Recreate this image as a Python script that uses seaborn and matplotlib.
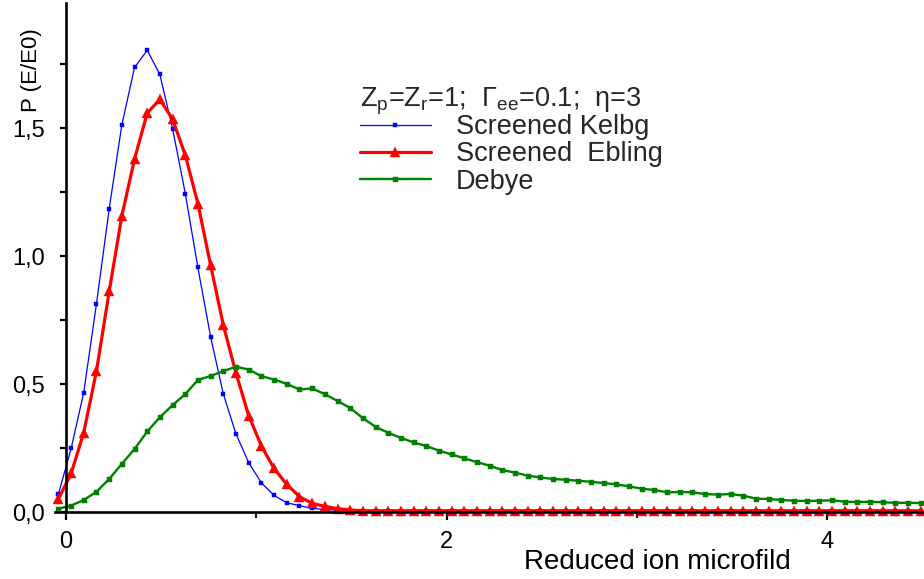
import numpy as np
import pandas as pd
import matplotlib
matplotlib.use("Agg")
import matplotlib.pyplot as plt
import seaborn as sns
from matplotlib.ticker import FixedLocator

# ---------------- data ----------------
x_vals = [-0.040, 0.027, 0.093, 0.160, 0.227, 0.293, 0.360, 0.427, 0.493, 0.560,
          0.627, 0.693, 0.760, 0.827, 0.893, 0.960, 1.027, 1.093, 1.160, 1.227,
          1.293, 1.360, 1.427, 1.493, 1.560, 1.627, 1.693, 1.760, 1.827, 1.893,
          1.960, 2.027, 2.093, 2.160, 2.227, 2.293, 2.360, 2.427, 2.493, 2.560,
          2.627, 2.693, 2.760, 2.827, 2.893, 2.960, 3.027, 3.093, 3.160, 3.227,
          3.293, 3.360, 3.427, 3.493, 3.560, 3.627, 3.693, 3.760, 3.827, 3.893,
          3.960, 4.027, 4.093, 4.160, 4.227, 4.293, 4.360, 4.427, 4.493]

kelbg = [0.070, 0.249, 0.467, 0.814, 1.186, 1.512, 1.738, 1.805, 1.711, 1.499,
         1.245, 0.956, 0.685, 0.461, 0.306, 0.193, 0.114, 0.065, 0.036, 0.025,
         0.014, 0.010, 0.007, 0.005, 0.005, 0.005, 0.005, 0.005, 0.005, 0.005,
         0.005, 0.005, 0.005, 0.005, 0.005, 0.005, 0.005, 0.005, 0.005, 0.005,
         0.005, 0.005, 0.005, 0.005, 0.005, 0.005, 0.005, 0.005, 0.005, 0.005,
         0.005, 0.005, 0.005, 0.005, 0.005, 0.005, 0.005, 0.005, 0.005, 0.005,
         0.005, 0.005, 0.005, 0.005, 0.005, 0.005, 0.005, 0.005, 0.005]

ebling = [0.051, 0.151, 0.310, 0.551, 0.863, 1.156, 1.380, 1.560, 1.613, 1.536,
          1.395, 1.206, 0.965, 0.730, 0.544, 0.377, 0.258, 0.171, 0.108, 0.060,
          0.034, 0.022, 0.013, 0.008, 0.005, 0.005, 0.005, 0.005, 0.005, 0.005,
          0.005, 0.005, 0.005, 0.005, 0.005, 0.005, 0.005, 0.005, 0.005, 0.005,
          0.005, 0.005, 0.005, 0.005, 0.005, 0.005, 0.005, 0.005, 0.005, 0.005,
          0.005, 0.005, 0.005, 0.005, 0.005, 0.005, 0.005, 0.005, 0.005, 0.005,
          0.005, 0.005, 0.005, 0.005, 0.005, 0.005, 0.005, 0.005, 0.005]

debye = [0.013, 0.025, 0.047, 0.079, 0.129, 0.188, 0.246, 0.315, 0.370, 0.418,
         0.461, 0.516, 0.532, 0.551, 0.568, 0.557, 0.531, 0.518, 0.501, 0.479,
         0.483, 0.461, 0.434, 0.407, 0.367, 0.333, 0.310, 0.290, 0.272, 0.258,
         0.240, 0.225, 0.210, 0.195, 0.181, 0.164, 0.154, 0.142, 0.135, 0.129,
         0.126, 0.122, 0.118, 0.113, 0.108, 0.100, 0.091, 0.086, 0.077, 0.078,
         0.077, 0.070, 0.068, 0.070, 0.064, 0.052, 0.051, 0.047, 0.044, 0.043,
         0.044, 0.046, 0.040, 0.039, 0.040, 0.038, 0.036, 0.036, 0.035]

series_labels = ["Screened Kelbg", "Screened  Ebling", "Debye"]
x_major_ticks = [0, 2, 4]
x_major_labels = ["0", "2", "4"]
x_minor_ticks = [1, 3]
y_major_ticks = [0.0, 0.5, 1.0, 1.5]
y_major_labels = ["0,0", "0,5", "1,0", "1,5"]
y_minor_ticks = [0.25, 0.75, 1.25, 1.75]

# ---------------- style ----------------
sns.set_theme(style="ticks")
plt.rcParams["font.family"] = ["Liberation Sans", "DejaVu Sans"]
plt.rcParams["mathtext.fontset"] = "custom"
plt.rcParams["mathtext.rm"] = "Liberation Sans"
plt.rcParams["mathtext.it"] = "Liberation Sans:italic"

fig = plt.figure(figsize=(9.24, 5.79), dpi=100)
ax = fig.add_axes([55 / 924, 1 - 512 / 579, (924 - 55) / 924, (512 - 3) / 579])

df = pd.DataFrame({"x": x_vals, "kelbg": kelbg, "ebling": ebling, "debye": debye})

styles = [
    ("kelbg", series_labels[0], "#0000FF", 0.9, "s", 3.4),
    ("ebling", series_labels[1], "#FF0000", 2.3, "^", 7.5),
    ("debye", series_labels[2], "#008000", 1.7, "s", 3.6),
]
for col, lab, colr, lw, mk, ms in styles:
    sns.lineplot(data=df, x="x", y=col, ax=ax, color=colr, linewidth=lw,
                 marker=mk, markersize=ms, markeredgecolor=colr,
                 markeredgewidth=0.3, label=lab, clip_on=False, sort=False)

ax.set_xlim(-0.058, 4.51)
ax.set_ylim(0, 1.99)

for s in ["top", "right"]:
    ax.spines[s].set_visible(False)
ax.spines["left"].set_position(("data", 0))
for s in ["left", "bottom"]:
    ax.spines[s].set_linewidth(1.9)
    ax.spines[s].set_color("black")

ax.xaxis.set_major_locator(FixedLocator(x_major_ticks))
ax.set_xticklabels(x_major_labels)
ax.xaxis.set_minor_locator(FixedLocator(x_minor_ticks))
ax.yaxis.set_major_locator(FixedLocator(y_major_ticks))
ax.set_yticklabels(y_major_labels)
ax.yaxis.set_minor_locator(FixedLocator(y_minor_ticks))

ax.tick_params(axis="x", which="major", direction="out", length=6, width=1.6,
               pad=8, labelsize=17, colors="black")
ax.tick_params(axis="x", which="minor", direction="out", length=4, width=1.6)
ax.tick_params(axis="y", which="both", direction="out", length=4.5, width=1.6,
               pad=11, labelsize=17, colors="black")

ax.set_xlabel("Reduced ion microfild", fontsize=20, color="black")
ax.xaxis.set_label_coords((657 - 55) / 869, (512 - 549) / 509)
ax.set_ylabel("P (E/E0)", fontsize=16, color="black")
ax.yaxis.set_label_coords((42 - 55) / 869, (512 - 70) / 509)

leg = ax.legend(loc="upper left", bbox_to_anchor=(346 / 924, 1 - 72 / 579),
                bbox_transform=fig.transFigure, frameon=False,
                title=r"Z$_\mathregular{p}$=Z$_\mathregular{r}$=1;  Γ$_\mathregular{ee}$=0.1;  η=3",
                alignment="left", fontsize=19.5, title_fontsize=19.5,
                handlelength=2.65, handletextpad=0.9, labelspacing=0.05,
                borderpad=0, numpoints=1)
leg._legend_box.sep = -2

fig.savefig("out.png", dpi=100)
